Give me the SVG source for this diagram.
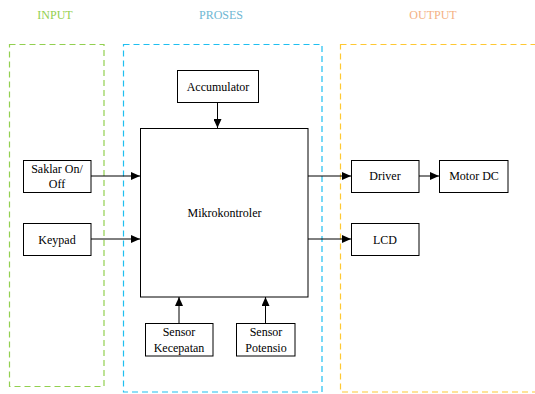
<svg xmlns="http://www.w3.org/2000/svg" width="535" height="394" viewBox="0 0 535 394">
<defs>
<marker id="ah" markerWidth="10" markerHeight="8" refX="9" refY="4" orient="auto" markerUnits="userSpaceOnUse">
<path d="M0,0 L9,4 L0,8 Z" fill="#000"/>
</marker>
<style>
.box{fill:#fff;stroke:#000;stroke-width:1}
.t{font-family:"Liberation Serif","Times New Roman",serif;font-size:12px;fill:#000;text-anchor:middle}
.h{font-family:"Liberation Serif","Times New Roman",serif;font-size:12px;text-anchor:middle}
.c{stroke:#000;stroke-width:1;fill:none;marker-end:url(#ah)}
.zone{fill:none;stroke-width:1.2;stroke-dasharray:6,4}
</style>
</defs>
<rect width="535" height="394" fill="#fff"/>
<g id="zones">
<text class="h" x="55" y="19" fill="#92d050">INPUT</text>
<text class="h" x="221" y="19" fill="#6fb7d3">PROSES</text>
<text class="h" x="433" y="19" fill="#f4b183">OUTPUT</text>
<rect class="zone" x="9.5" y="44.5" width="94.5" height="342" stroke="#92d050"/>
<rect class="zone" x="123.5" y="44.5" width="198.5" height="347.5" stroke="#1fbff0"/>
<rect class="zone" x="340.5" y="44.5" width="220" height="347.5" stroke="#ffc832"/>
</g>
<g id="connectors">
<path class="c" d="M91,176 H140"/>
<path class="c" d="M91,239 H140"/>
<path class="c" d="M217.5,102 V128"/>
<path class="c" d="M179,323 V297"/>
<path class="c" d="M265.5,323 V297"/>
<path class="c" d="M308,176 H351"/>
<path class="c" d="M308,239 H351"/>
<path class="c" d="M419,176 H439"/>
</g>
<g id="saklar"><rect class="box" x="23.5" y="160.5" width="67.5" height="32"/><text class="t" x="57" y="173">Saklar On/</text><text class="t" x="57" y="188">Off</text></g>
<g id="keypad"><rect class="box" x="23.5" y="223.5" width="67.5" height="32"/><text class="t" x="57" y="244">Keypad</text></g>
<g id="accumulator"><rect class="box" x="177.5" y="70.5" width="81" height="32"/><text class="t" x="218" y="91">Accumulator</text></g>
<g id="mikrokontroler"><rect class="box" x="140.5" y="128.5" width="167.5" height="168.5"/><text class="t" x="224.5" y="217">Mikrokontroler</text></g>
<g id="sensor-kecepatan"><rect class="box" x="145.5" y="323.5" width="67.5" height="32.5"/><text class="t" x="179" y="336">Sensor</text><text class="t" x="179" y="352">Kecepatan</text></g>
<g id="sensor-potensio"><rect class="box" x="236.5" y="323.5" width="58.5" height="32.5"/><text class="t" x="266" y="336">Sensor</text><text class="t" x="266" y="352">Potensio</text></g>
<g id="driver"><rect class="box" x="351.5" y="160.5" width="67.5" height="32"/><text class="t" x="385" y="180">Driver</text></g>
<g id="motor-dc"><rect class="box" x="439.5" y="160.5" width="68.5" height="32"/><text class="t" x="474" y="180">Motor DC</text></g>
<g id="lcd"><rect class="box" x="351.5" y="223.5" width="67.5" height="32"/><text class="t" x="385" y="244">LCD</text></g>
</svg>
